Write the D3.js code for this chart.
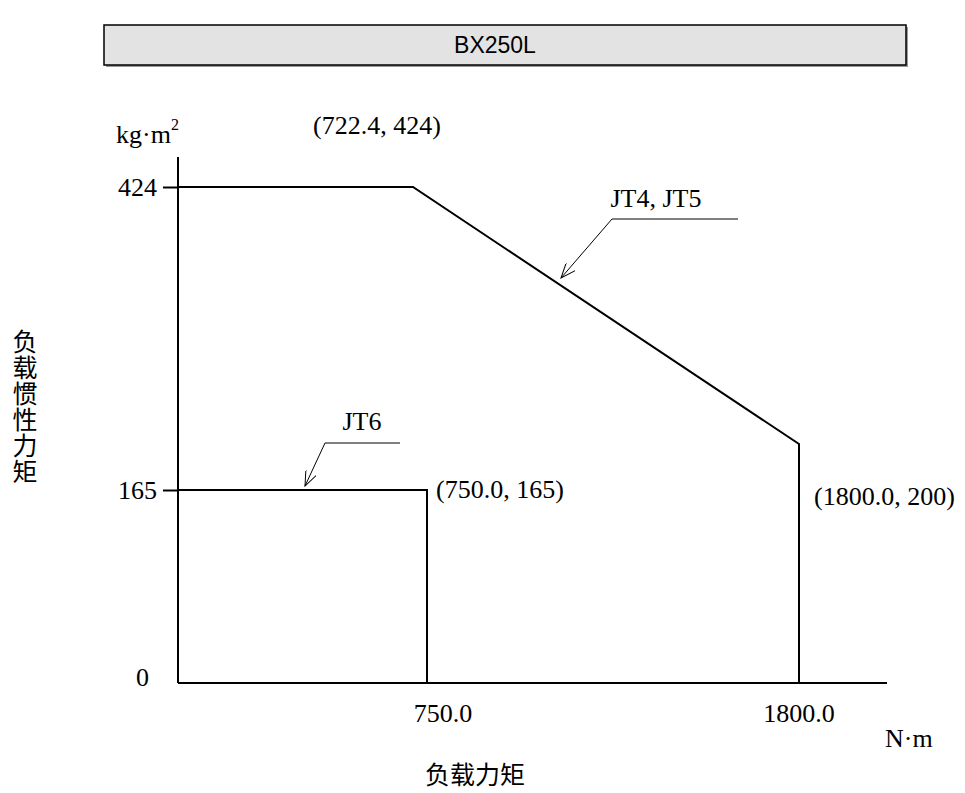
<!DOCTYPE html>
<html>
<head>
<meta charset="utf-8">
<title>BX250L</title>
<script src="https://cdn.jsdelivr.net/npm/d3@7"></script>
<style>
  body { margin: 0; background: #fff; }
  svg { display: block; }
  .serif { font-family: "Liberation Serif", "Times New Roman", serif; font-size: 26px; fill: #000; }
  .sans { font-family: "Liberation Sans", Arial, sans-serif; }
  .cjk { font-family: "Noto Sans CJK SC", sans-serif; font-size: 25px; fill: #000; }
</style>
</head>
<body>
<svg id="chart" width="965" height="793"></svg>
<script>
// data (schematic, not to scale)
var TITLE = 'BX250L';
var JT45_X = [0, 722.4, 1800, 1800];
var JT45_Y = [424, 424, 200, 0];
var JT6_X = [0, 750, 750];
var JT6_Y = [165, 165, 0];
var X_TICKS = [750, 1800];
var X_TICK_LABELS = ['750.0', '1800.0'];
var Y_TICKS = [0, 165, 424];
var Y_TICK_LABELS = ['0', '165', '424'];
var POINT_LABELS = ['(722.4, 424)', '(750.0, 165)', '(1800.0, 200)'];
var SERIES_NAMES = ['JT4, JT5', 'JT6'];

var svg = d3.select('#chart');

// polylinear scales, the drawing is only a sketch
var x = d3.scaleLinear().domain([0, 722.4, 750, 1800]).range([178, 413, 427, 799]);
var y = d3.scaleLinear().domain([0, 165, 200, 424]).range([683, 490, 444, 187]);

// title box with a soft shadow
svg.append('rect').attr('x', 106).attr('y', 27).attr('width', 802).attr('height', 40).attr('fill', '#999');
svg.append('rect').attr('x', 104).attr('y', 25).attr('width', 802).attr('height', 40)
  .attr('fill', '#e3e3e3').attr('stroke', '#000').attr('stroke-width', 1.5);
svg.append('text').attr('class', 'sans').attr('x', 495).attr('y', 53)
  .attr('text-anchor', 'middle').attr('font-size', 23).text(TITLE);

// arrow marker
svg.append('defs').append('marker').attr('id', 'arr')
  .attr('viewBox', '0 0 16 12').attr('refX', 15).attr('refY', 6)
  .attr('markerWidth', 16).attr('markerHeight', 12).attr('markerUnits', 'userSpaceOnUse')
  .attr('orient', 'auto')
  .append('path').attr('d', 'M0,0 L15,6 L0,12').attr('fill', 'none').attr('stroke', '#000').attr('stroke-width', 1);

// axes
var axisY = d3.axisLeft(y).tickValues(Y_TICKS.slice(1)).tickSize(15).tickFormat('');
var gy = svg.append('g').attr('transform', 'translate(' + x(0) + ',0)').call(axisY);
gy.select('.domain').remove();
gy.selectAll('.tick line').attr('stroke-width', 2);
svg.append('line').attr('x1', x(0)).attr('x2', x(0)).attr('y1', 157).attr('y2', y(0))
  .attr('stroke', '#000').attr('stroke-width', 2);
svg.append('line').attr('x1', x(0)).attr('x2', 887).attr('y1', y(0)).attr('y2', y(0))
  .attr('stroke', '#000').attr('stroke-width', 2);

// y tick labels
svg.selectAll('.ylab').data(Y_TICKS).enter().append('text')
  .attr('class', 'serif ylab')
  .attr('x', function (d) { return d === 0 ? 149 : 157; })
  .attr('y', function (d) { return y(d) + (d === 0 ? 3 : 9); })
  .attr('text-anchor', 'end')
  .text(function (d, i) { return Y_TICK_LABELS[i]; });

// x tick labels
svg.selectAll('.xlab').data(X_TICKS).enter().append('text')
  .attr('class', 'serif xlab')
  .attr('x', function (d) { return d === 750 ? x(d) + 16 : x(d); })
  .attr('y', 722)
  .attr('text-anchor', 'middle')
  .text(function (d, i) { return X_TICK_LABELS[i]; });

// unit labels
var ku = svg.append('text').attr('class', 'serif').attr('x', 116).attr('y', 143);
ku.append('tspan').text('kg·m');
ku.append('tspan').attr('dy', -13).attr('font-size', 16).text('2');
svg.append('text').attr('class', 'serif').attr('x', 885).attr('y', 747).text('N·m');

// lines
var line = d3.line().x(function (d) { return x(d[0]); }).y(function (d) { return y(d[1]); });
svg.append('path').datum(d3.zip(JT45_X, JT45_Y)).attr('d', line)
  .attr('fill', 'none').attr('stroke', '#000').attr('stroke-width', 2);
svg.append('path').datum(d3.zip(JT6_X, JT6_Y)).attr('d', line)
  .attr('fill', 'none').attr('stroke', '#000').attr('stroke-width', 2);

// point labels
svg.append('text').attr('class', 'serif').attr('x', x(722.4) - 36).attr('y', 134)
  .attr('text-anchor', 'middle').text(POINT_LABELS[0]);
svg.append('text').attr('class', 'serif').attr('x', x(750) + 9).attr('y', y(165) + 8)
  .text(POINT_LABELS[1]);
svg.append('text').attr('class', 'serif').attr('x', x(1800) + 15).attr('y', y(200) + 61)
  .text(POINT_LABELS[2]);

// series callouts
svg.append('path').attr('d', 'M738,219 L612,219 L561,278')
  .attr('fill', 'none').attr('stroke', '#000').attr('stroke-width', 1).attr('marker-end', 'url(#arr)');
svg.append('text').attr('class', 'serif').attr('x', 656).attr('y', 207)
  .attr('text-anchor', 'middle').text(SERIES_NAMES[0]);
svg.append('path').attr('d', 'M400,443 L325,443 L305,486')
  .attr('fill', 'none').attr('stroke', '#000').attr('stroke-width', 1).attr('marker-end', 'url(#arr)');
svg.append('text').attr('class', 'serif').attr('x', 362).attr('y', 430)
  .attr('text-anchor', 'middle').text(SERIES_NAMES[1]);

// axis titles
svg.append('text').attr('class', 'cjk').attr('x', 475).attr('y', 784)
  .attr('text-anchor', 'middle').text('负载力矩');
svg.append('text').attr('class', 'cjk').attr('x', 25).attr('y', 407)
  .attr('text-anchor', 'middle').style('writing-mode', 'vertical-rl')
  .style('letter-spacing', '1px').text('负载惯性力矩');
</script>
</body>
</html>
